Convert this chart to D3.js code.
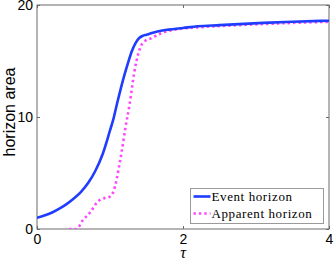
<!DOCTYPE html>
<html>
<head>
<meta charset="utf-8">
<script src="https://cdn.jsdelivr.net/npm/d3@7"></script>
<style>
  body { margin: 0; background: #fff; }
  svg { display: block; }
</style>
</head>
<body>
<div id="chart"></div>
<script>
// values
var tauEvent = [0, 0.1, 0.2, 0.3, 0.4, 0.5, 0.6, 0.7, 0.8, 0.9, 1.0, 1.05, 1.1, 1.15, 1.2, 1.25, 1.3, 1.35, 1.4, 1.45, 1.5, 1.6, 1.7, 1.8, 2.0, 2.2, 2.5, 3.1, 3.5, 4.0];
var areaEvent = [1.0, 1.2, 1.45, 1.8, 2.2, 2.7, 3.3, 4.1, 5.2, 6.7, 8.8, 9.9, 11.3, 12.6, 13.8, 14.9, 15.9, 16.6, 17.05, 17.25, 17.35, 17.55, 17.7, 17.8, 17.95, 18.1, 18.2, 18.4, 18.5, 18.6];

var tauApparent = [0.44, 0.54, 0.63, 0.73, 0.84, 0.92, 1.0, 1.05, 1.09, 1.13, 1.16, 1.21, 1.27, 1.33, 1.39, 1.46, 1.57, 1.71, 1.89, 2.2, 2.6, 3.1, 3.5, 4.0];
var areaApparent = [0, 0, 0.8, 1.5, 2.5, 2.75, 2.9, 3.4, 4.4, 5.8, 6.9, 9.0, 11.2, 13.9, 15.7, 16.7, 17.05, 17.5, 17.8, 18.0, 18.15, 18.3, 18.4, 18.5];

var xTicks = [0, 2, 4];
var yTicks = [0, 10, 20];
var legendLabels = ["Event horizon", "Apparent horizon"];

var svgWidth = 334, svgHeight = 263;
var margin = { top: 5, right: 5, bottom: 34, left: 37 };
var width = svgWidth - margin.left - margin.right;
var height = svgHeight - margin.top - margin.bottom;

var axisColor = "#6b6b6b";
var blue = "#1f3cff", magenta = "#ff45ff";

var svg = d3.select("#chart").append("svg")
  .attr("width", svgWidth)
  .attr("height", svgHeight);

var chartGroup = svg.append("g")
  .attr("transform", `translate(${margin.left}, ${margin.top})`);

var xScale = d3.scaleLinear().domain([0, 4]).range([0, width]);
var yScale = d3.scaleLinear().domain([0, 20]).range([height, 0]);

// clip to the axes box
chartGroup.append("clipPath").attr("id", "clip")
  .append("rect").attr("width", width).attr("height", height);

// axes, ticks pointing inward like MATLAB
function styleAxis(g) {
  g.select(".domain").remove();
  g.selectAll("line").attr("stroke", axisColor);
  g.selectAll("text")
    .attr("fill", "#000")
    .style("font-family", "'Liberation Sans', Arial, sans-serif")
    .style("font-size", "14px");
}

chartGroup.append("g")
  .attr("transform", `translate(0, ${height})`)
  .call(d3.axisBottom(xScale).tickValues(xTicks).tickSizeInner(-3).tickPadding(5).tickFormat(d3.format("d")))
  .call(styleAxis);

chartGroup.append("g")
  .call(d3.axisLeft(yScale).tickValues(yTicks).tickSizeInner(-3).tickPadding(4).tickFormat(d3.format("d")))
  .call(styleAxis);

chartGroup.append("g")
  .call(d3.axisTop(xScale).tickValues(xTicks).tickSizeInner(-3).tickFormat(""))
  .call(styleAxis);

chartGroup.append("g")
  .attr("transform", `translate(${width}, 0)`)
  .call(d3.axisRight(yScale).tickValues(yTicks).tickSizeInner(-3).tickFormat(""))
  .call(styleAxis);

chartGroup.append("rect")
  .attr("width", width)
  .attr("height", height)
  .attr("fill", "none")
  .attr("stroke", axisColor)
  .attr("stroke-width", 1);

// curves
var line = d3.line()
  .x(d => xScale(d[0]))
  .y(d => yScale(d[1]))
  .curve(d3.curveMonotoneX);

chartGroup.append("path")
  .datum(d3.zip(tauApparent, areaApparent))
  .attr("clip-path", "url(#clip)")
  .attr("d", line)
  .attr("fill", "none")
  .attr("stroke", magenta)
  .attr("stroke-width", 2.6)
  .attr("stroke-dasharray", "2.4,3");

chartGroup.append("path")
  .datum(d3.zip(tauEvent, areaEvent))
  .attr("clip-path", "url(#clip)")
  .attr("d", line)
  .attr("fill", "none")
  .attr("stroke", blue)
  .attr("stroke-width", 2.6);

// axis labels
svg.append("text")
  .attr("transform", "translate(15, 112) rotate(-90)")
  .attr("text-anchor", "middle")
  .style("font-family", "'Liberation Sans', Arial, sans-serif")
  .style("font-size", "16px")
  .text("horizon area");

svg.append("text")
  .attr("x", margin.left + xScale(2))
  .attr("y", 258)
  .attr("text-anchor", "middle")
  .style("font-family", "'Liberation Serif', serif")
  .style("font-style", "italic")
  .style("font-size", "16px")
  .text("τ");

// legend
var legend = svg.append("g").attr("transform", "translate(190.5, 188.5)");
legend.append("rect")
  .attr("width", 133)
  .attr("height", 35)
  .attr("fill", "#fff")
  .attr("stroke", "#9a9a9a");

var legendRows = legend.selectAll("g.row")
  .data(legendLabels)
  .enter().append("g")
  .attr("class", "row")
  .attr("transform", (d, i) => `translate(0, ${8 + i * 17})`);

legendRows.append("line")
  .attr("x1", 3).attr("x2", 20)
  .attr("stroke", (d, i) => i === 0 ? blue : magenta)
  .attr("stroke-width", 2.6)
  .attr("stroke-dasharray", (d, i) => i === 0 ? null : "2.4,3");

legendRows.append("text")
  .attr("x", 21)
  .attr("dy", "0.35em")
  .style("font-family", "'Liberation Serif', serif")
  .style("font-size", "13px")
  .style("letter-spacing", "0.6px")
  .text(d => d);
</script>
</body>
</html>
